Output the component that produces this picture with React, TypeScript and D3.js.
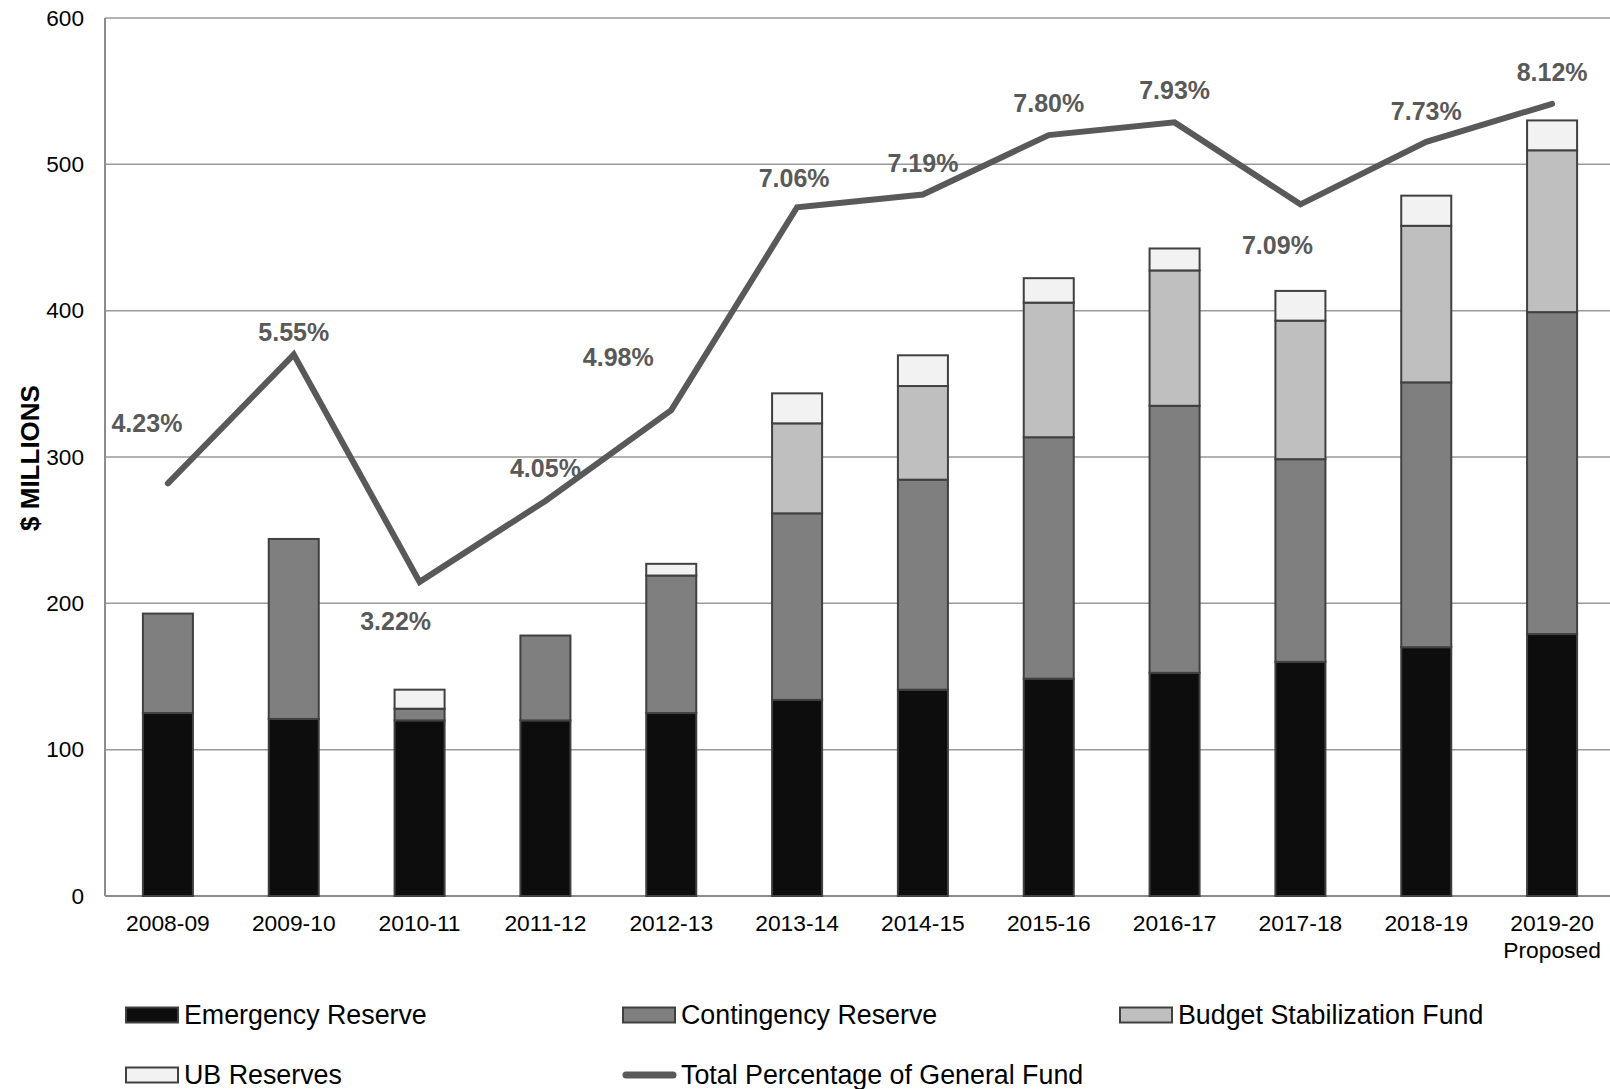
import React from "react";
import * as d3 from "d3";

const categories = ["2008-09", "2009-10", "2010-11", "2011-12", "2012-13", "2013-14", "2014-15", "2015-16", "2016-17", "2017-18", "2018-19", "2019-20"];
const categorySubLabels = ["", "", "", "", "", "", "", "", "", "", "", "Proposed"];
const emergencyReserve = [125, 121, 120, 120, 125, 134, 141, 148.5, 152.5, 160, 170, 179];
const contingencyReserve = [68, 123, 8, 58, 94, 127.5, 143.5, 165, 182.5, 138.5, 181, 220];
const budgetStabilization = [0, 0, 0, 0, 0, 61.5, 64, 92, 92.5, 94.7, 107, 110.6];
const ubReserves = [0, 0, 13, 0, 8, 20.5, 21, 16.7, 15, 20.3, 20.6, 20.4];
const pctOfGeneralFund = [4.23, 5.55, 3.22, 4.05, 4.98, 7.06, 7.19, 7.8, 7.93, 7.09, 7.73, 8.12];
const yTicks = [0, 100, 200, 300, 400, 500, 600];

// layout for the percentage labels (pixel offsets from the line point)
const labelDx = [-21, 0, -24, 0, -53, -3, 0, 0, 0, -23, 0, 0];
const labelDy = [-60, -23, 39, -33, -53, -29, -32, -32, -32, 41, -31, -32];

const seriesNames = ["Emergency Reserve", "Contingency Reserve", "Budget Stabilization Fund", "UB Reserves"];
const seriesColors = ["#0d0d0d", "#7f7f7f", "#bfbfbf", "#f2f2f2"];
const lineName = "Total Percentage of General Fund";
const lineColor = "#595959";
const FONT = "'Liberation Sans', Arial, Helvetica, sans-serif";

export default function App() {
  const W = 1610, H = 1089;
  const left = 105, right = 1615, top = 18, bottom = 896;

  const x = d3.scaleBand<string>().domain(categories).range([left, right]).paddingInner(0.6025).paddingOuter(0.30125);
  const y = d3.scaleLinear().domain([0, 600]).range([bottom, top]);
  const y2 = d3.scaleLinear().domain([0, 9]).range([bottom, top]);

  const rows = categories.map((c, i) => ({
    cat: c,
    e: emergencyReserve[i],
    c: contingencyReserve[i],
    b: budgetStabilization[i],
    u: ubReserves[i],
  }));
  const stack = d3.stack<any>().keys(["e", "c", "b", "u"]);
  const series = stack(rows);

  const cx = (c: string) => (x(c) as number) + x.bandwidth() / 2;
  const lineGen = d3.line<number>()
    .x((_, i) => cx(categories[i]))
    .y((d) => y2(d));

  const legendItems = [
    { name: seriesNames[0], color: seriesColors[0], col: 0, row: 0 },
    { name: seriesNames[1], color: seriesColors[1], col: 1, row: 0 },
    { name: seriesNames[2], color: seriesColors[2], col: 2, row: 0 },
    { name: seriesNames[3], color: seriesColors[3], col: 0, row: 1 },
  ];
  const colX = [126, 623, 1120];
  const rowY = [1015, 1075];

  return (
    <svg width={W} height={H} style={{ position: "absolute", left: 0, top: 0, background: "#fff" }} fontFamily={FONT}>
      {/* gridlines */}
      {yTicks.filter((t) => t > 0).map((t) => (
        <line key={"g" + t} x1={left} x2={right} y1={y(t)} y2={y(t)} stroke="#999" strokeWidth={1.5} />
      ))}
      {/* axes */}
      <line x1={left} x2={left} y1={top} y2={bottom} stroke="#8c8c8c" strokeWidth={2} />
      <line x1={left} x2={right} y1={bottom} y2={bottom} stroke="#8c8c8c" strokeWidth={2} />
      {yTicks.map((t) => (
        <text key={"yt" + t} x={84} y={y(t)} textAnchor="end" dominantBaseline="central" fontSize={22.6} fill="#000">{t}</text>
      ))}
      <text transform={`translate(30,${(y(300) as number) + 1}) rotate(-90)`} textAnchor="middle" dominantBaseline="central" fontSize={26} fontWeight="bold" fill="#000">$ MILLIONS</text>

      {/* bars */}
      {series.map((s, si) => (
        <g key={"s" + si}>
          {s.map((d, i) => {
            const h = y(d[0]) - y(d[1]);
            if (h <= 0.01) return null;
            return (
              <rect key={i} x={x(categories[i])} y={y(d[1])} width={x.bandwidth()} height={h}
                fill={seriesColors[si]} stroke="#404040" strokeWidth={2} />
            );
          })}
        </g>
      ))}

      {/* x tick labels */}
      {categories.map((c, i) => (
        <g key={"xt" + c}>
          <text x={cx(c)} y={923} textAnchor="middle" dominantBaseline="central" fontSize={22.8} fill="#000">{c}</text>
          {categorySubLabels[i] && (
            <text x={cx(c)} y={950} textAnchor="middle" dominantBaseline="central" fontSize={22.8} fill="#000">{categorySubLabels[i]}</text>
          )}
        </g>
      ))}

      {/* line */}
      <path d={lineGen(pctOfGeneralFund) as string} fill="none" stroke={lineColor} strokeWidth={6} strokeLinecap="round" strokeLinejoin="miter" />
      {pctOfGeneralFund.map((p, i) => (
        <text key={"pl" + i} x={cx(categories[i]) + labelDx[i]} y={y2(p) + labelDy[i]} textAnchor="middle" dominantBaseline="central"
          fontSize={25} fontWeight="bold" fill={lineColor}>{p.toFixed(2)}%</text>
      ))}

      {/* legend */}
      {legendItems.map((it) => (
        <g key={it.name}>
          <rect x={colX[it.col]} y={rowY[it.row] - 7.5} width={52} height={15} fill={it.color} stroke="#404040" strokeWidth={2} />
          <text x={colX[it.col] + 58} y={rowY[it.row]} dominantBaseline="central" fontSize={26.8} fill="#000">{it.name}</text>
        </g>
      ))}
      <line x1={colX[1] + 3} x2={colX[1] + 50} y1={rowY[1]} y2={rowY[1]} stroke={lineColor} strokeWidth={7} strokeLinecap="round" />
      <text x={colX[1] + 58} y={rowY[1]} dominantBaseline="central" fontSize={26.8} fill="#000">{lineName}</text>
    </svg>
  );
}
